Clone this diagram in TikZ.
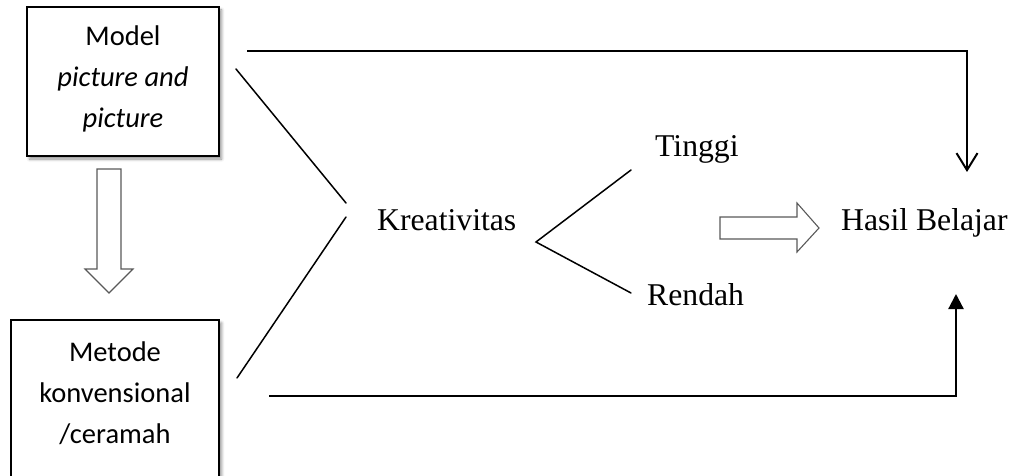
\documentclass[tikz,border=0pt]{standalone}
\usepackage{fontspec}
\setmainfont{Liberation Serif}
\newfontfamily\boxfont{Carlito}
\usetikzlibrary{arrows.meta,shadows,shadows.blur}

\begin{document}
\begin{tikzpicture}[x=1pt,y=-1pt,
  box/.style={draw=black, line width=1.4pt, fill=white, rectangle, inner sep=0pt,
    blur shadow={shadow xshift=2.5pt, shadow yshift=-3pt, shadow blur steps=6,
      shadow blur radius=3pt, shadow opacity=45}},
  boxtext/.style={align=center, anchor=base, inner sep=0pt,
    font=\boxfont\fontsize{28.5}{41}\selectfont},
  label/.style={anchor=base west, inner sep=0pt,
    font=\fontsize{31.7}{38}\selectfont},
  link/.style={line width=1.5pt, line cap=round},
  flow/.style={line width=2.2pt},
  hollow/.style={draw=black!65, line width=1.1pt, fill=white, line join=miter}
]
\useasboundingbox (0,0) rectangle (1013,476);

% boxes on the left (text anchored at the baseline of its last line)
\node[box, minimum width=192pt, minimum height=149pt] (model) at (123,81.5) {};
\node[boxtext] (modeltext) at (123,128) {Model\\\textit{picture and}\\\textit{picture}};
\node[box, minimum width=208pt, minimum height=180pt] (metode) at (115,410) {};
\node[boxtext] (metodetext) at (115,443) {Metode\\konvensional\\/ceramah};

% hollow arrow between the boxes
\draw[hollow] (97,169) -- (121,169) -- (121,269) -- (133,269) -- (109,293)
  -- (85,269) -- (97,269) -- cycle;

% labels
\node[label] (kreat) at (377,230) {Kreativitas};
\node[label] (tinggi) at (655,157) {Tinggi};
\node[label] (rendah) at (647,305) {Rendah};
\node[label] (hasil) at (841,231) {Hasil Belajar};

% hollow arrow towards the result
\draw[hollow] (720,217) -- (797,217) -- (797,203) -- (819,228) -- (797,252)
  -- (797,239) -- (720,239) -- cycle;

% line ends
\coordinate (m1) at (236,69);
\coordinate (k1) at (346,203);
\coordinate (k2) at (346,217);
\coordinate (m2) at (237,378);
\coordinate (fork) at (536,242);
\coordinate (t1) at (631,170);
\coordinate (r1) at (631,293);
\coordinate (topL) at (247,51);
\coordinate (topTip) at (967,172);
\coordinate (botL) at (269,396);
\coordinate (botTip) at (956,294);

% converging lines and fork
\draw[link] (m1) -- (k1);
\draw[link] (m2) -- (k2);
\draw[link] (t1) -- (fork) -- (r1);

% connectors to the result
\draw[flow, -{Straight Barb[length=17pt, width=21pt, line width=2pt]}] (topL) -| (topTip);
\draw[flow, -{Triangle[length=15pt, width=15pt]}] (botL) -| (botTip);
\end{tikzpicture}
\end{document}
